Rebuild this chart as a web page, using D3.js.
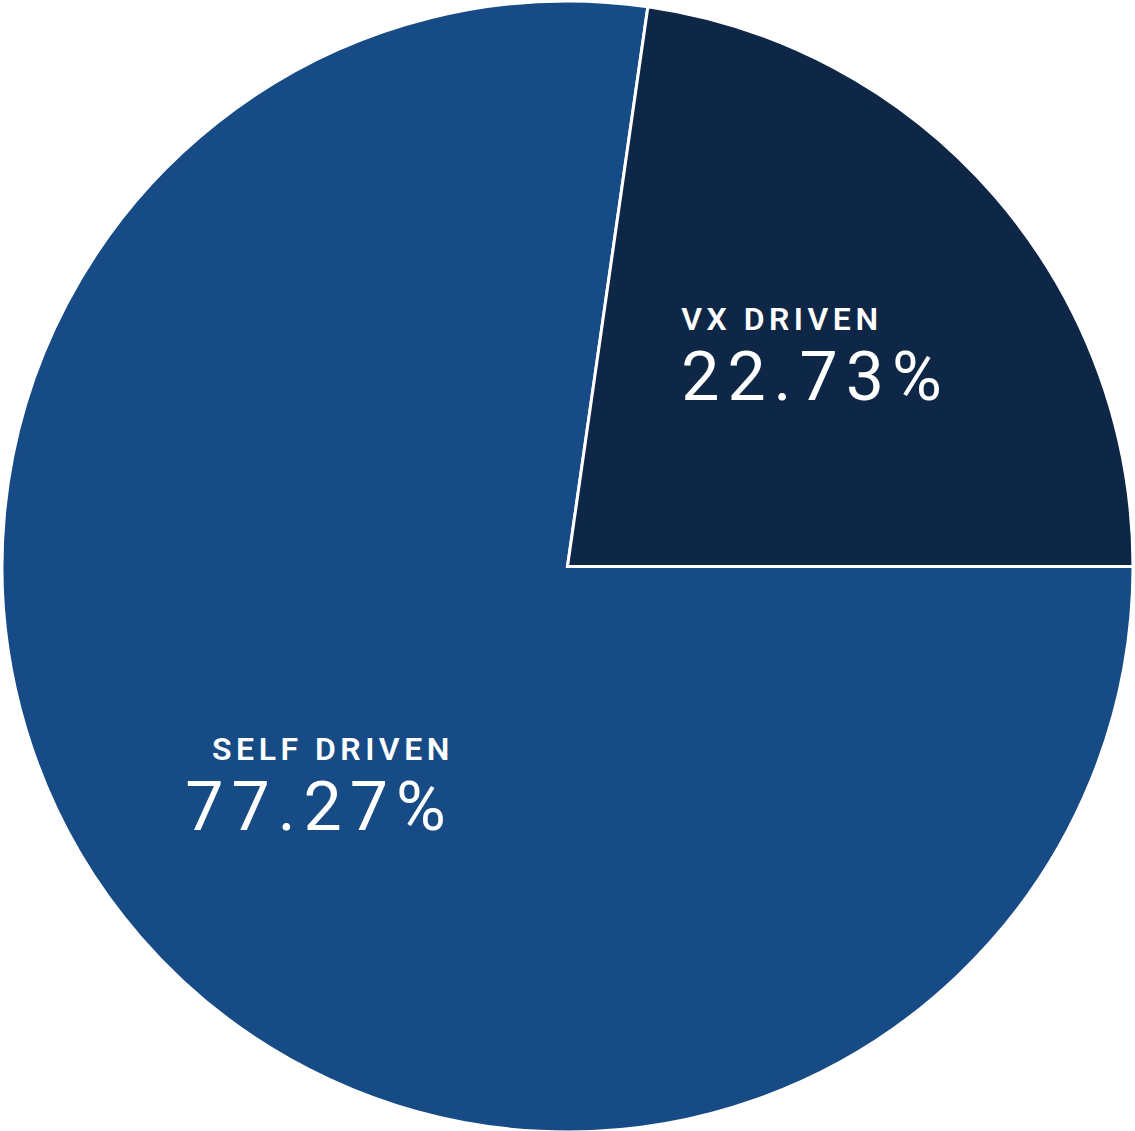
<!DOCTYPE html>
<html lang="en">
<head>
    <meta charset="UTF-8">
    <title>Driven Split</title>
    <script src="https://d3js.org/d3.v7.min.js"></script>
    <style>
        body {
            margin: 0;
            background: #fff;
            font-family: Roboto, "Noto Sans", Arial, sans-serif;
        }
        svg { display: block; }
        .slice-name {
            font-size: 32px;
            font-weight: 600;
            letter-spacing: 4.5px;
            fill: #fff;
        }
        .slice-value {
            font-size: 68px;
            font-weight: 400;
            letter-spacing: 8px;
            fill: #fff;
        }
    </style>
</head>
<body>
    <svg id="chart"></svg>

    <script>
        // Data
        const categories = ["SELF DRIVEN", "VX DRIVEN"];
        const values = [77.27, 22.73];
        const colors = ["#174b85", "#0e2746"];

        // label placement relative to each slice's centroid
        const labelPos = {
            "SELF DRIVEN": { anchor: "end", dx: 100, dy: 8 },
            "VX DRIVEN": { anchor: "start", dx: -100, dy: -51 }
        };

        const width = 1135;
        const height = 1131;
        const cx = 567.5, cy = 566.5;
        const radius = 565.5;

        const svg = d3.select("#chart")
            .attr("width", width)
            .attr("height", height);

        const data = categories.map((c, i) => ({ name: c, value: values[i], color: colors[i] }));

        const pie = d3.pie()
            .sort(null)
            .value(d => d.value)
            .startAngle(Math.PI / 2)
            .endAngle(Math.PI / 2 + 2 * Math.PI);

        const arc = d3.arc().innerRadius(0).outerRadius(radius);
        const labelArc = d3.arc().innerRadius(radius * 0.5).outerRadius(radius * 0.5);

        const g = svg.append("g").attr("transform", `translate(${cx},${cy})`);

        const arcs = pie(data);

        g.selectAll("path")
            .data(arcs)
            .enter()
            .append("path")
            .attr("d", arc)
            .attr("fill", d => d.data.color)
            .attr("stroke", "#fff")
            .attr("stroke-width", 3)
            .attr("stroke-linejoin", "miter");

        const labels = g.selectAll("g.label")
            .data(arcs)
            .enter()
            .append("g")
            .attr("class", "label")
            .attr("transform", d => {
                const [x, y] = labelArc.centroid(d);
                const p = labelPos[d.data.name];
                return `translate(${x + p.dx},${y + p.dy})`;
            });

        labels.append("text")
            .attr("class", "slice-name")
            .attr("text-anchor", d => labelPos[d.data.name].anchor)
            .attr("y", 0)
            .text(d => d.data.name);

        labels.append("text")
            .attr("class", "slice-value")
            .attr("text-anchor", d => labelPos[d.data.name].anchor)
            .attr("y", 70)
            .text(d => d.data.value.toFixed(2) + "%");
    </script>
</body>
</html>
